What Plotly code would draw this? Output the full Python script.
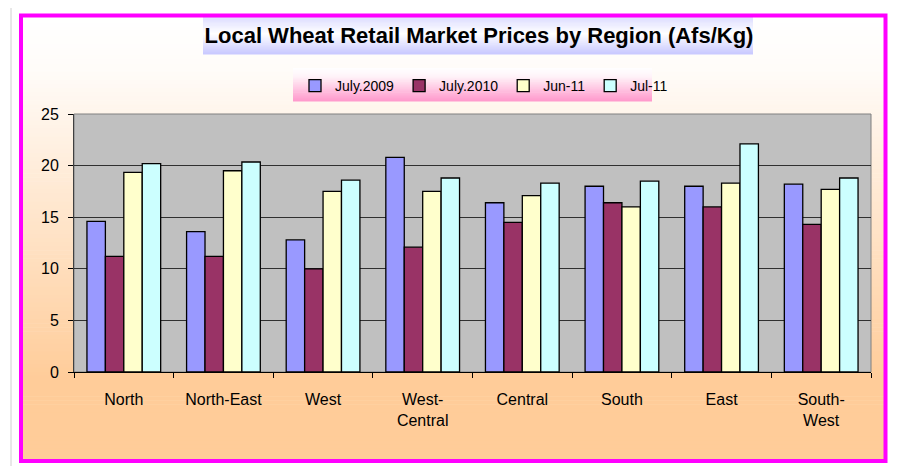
import plotly.graph_objects as go

# ---- data ----
regions = ["North", "North-East", "West", "West-Central", "Central", "South", "East", "South-West"]
tick_labels = ["North", "North-East", "West", "West-<br>Central", "Central", "South", "East", "South-<br>West"]
series_names = ["July.2009", "July.2010", "Jun-11", "Jul-11"]
jul2009 = [14.6, 13.6, 12.8, 20.8, 16.4, 18.0, 18.0, 18.2]
jul2010 = [11.2, 11.2, 10.0, 12.1, 14.5, 16.4, 16.0, 14.3]
jun2011 = [19.35, 19.5, 17.5, 17.5, 17.1, 16.0, 18.3, 17.7]
jul2011 = [20.2, 20.35, 18.6, 18.8, 18.3, 18.5, 22.1, 18.8]
colors = ["#9999FF", "#993366", "#FFFFCC", "#CCFFFF"]

# the page body has an 8px margin, so the figure is made 8px smaller
OFF = 8
W, H = 897 - OFF, 466 - OFF
PX0, PX1, PY0, PY1 = 74, 871, 114, 372   # plot area in page pixels
L, R = PX0 - OFF, W - (PX1 - OFF)
T, B = PY0 - OFF, H - (PY1 - OFF)
PW, PH = PX1 - PX0, PY1 - PY0

def px(x):
    return (x - PX0) / PW

def py(y):
    return (PY1 - y) / PH

def mix(c1, c2, t):
    a = [int(c1[i:i + 2], 16) for i in (1, 3, 5)]
    b = [int(c2[i:i + 2], 16) for i in (1, 3, 5)]
    return "rgb(%d,%d,%d)" % tuple(round(a[k] + (b[k] - a[k]) * t) for k in range(3))

shapes = []

def rect(x0, y0, x1, y1, fill=None, line=None, lw=0):
    shapes.append(dict(type="rect", xref="paper", yref="paper", layer="below",
                       x0=px(x0), x1=px(x1), y0=py(y1), y1=py(y0),
                       fillcolor=fill if fill else "rgba(0,0,0,0)",
                       line=dict(width=lw, color=line if line else "rgba(0,0,0,0)")))

def vgrad(x0, y0, x1, y1, stops, n):
    h = (y1 - y0) / n
    for i in range(n):
        t = (i + 0.5) / n
        for j in range(len(stops) - 1):
            if stops[j][0] <= t <= stops[j + 1][0]:
                tt = (t - stops[j][0]) / (stops[j + 1][0] - stops[j][0])
                c = mix(stops[j][1], stops[j + 1][1], tt)
                break
        rect(x0, y0 + i * h, x1, y0 + (i + 1) * h + 0.6, fill=c)

# page background gradient inside frame
vgrad(21, 15, 885, 461, [(0, "#FFFFFF"), (0.12, "#FFFCF9"), (0.82, "#FFCC99"), (1, "#FFCC99")], 110)
# plot area
rect(PX0, PY0, PX1, PY1, fill="#C0C0C0", line="#808080", lw=1)
# title box
vgrad(203, 17, 753, 54, [(0, "#DCDCFF"), (0.45, "#FFFFFF"), (1, "#C8C8FF")], 30)
# legend box
vgrad(293, 68, 652, 101, [(0, "#FFFFFF"), (0.25, "#FFF4F9"), (1, "#FF99CC")], 30)
# magenta frame
rect(21, 15.5, 885.5, 461, line="#FF00FF", lw=4)
# outer page lines
shapes.append(dict(type="line", xref="paper", yref="paper", layer="below",
                   x0=px(895), x1=px(895), y0=py(8), y1=py(470), line=dict(color="#000000", width=1.5)))
shapes.append(dict(type="line", xref="paper", yref="paper", layer="below",
                   x0=px(11), x1=px(11), y0=py(8), y1=py(470), line=dict(color="#D0D0D0", width=1)))

fig = go.Figure()
for name, vals, col in zip(series_names, [jul2009, jul2010, jun2011, jul2011], colors):
    fig.add_trace(go.Bar(x=regions, y=vals, name=name,
                         marker=dict(color=col, line=dict(color="#000000", width=1.3))))

font_family = "Liberation Sans, Arial, sans-serif"
fig.update_layout(
    width=W, height=H,
    margin=dict(l=L, r=R, t=T, b=B),
    paper_bgcolor="#FFFFFF",
    plot_bgcolor="rgba(0,0,0,0)",
    font=dict(family=font_family, color="#000000", size=16),
    barmode="group", bargap=0.26, bargroupgap=0,
    shapes=shapes,
    title=dict(text="<b>Local Wheat Retail Market Prices by Region (Afs/Kg)</b>",
               font=dict(size=22, family=font_family, color="#000000"),
               xref="paper", x=px(479), xanchor="center",
               yref="container", y=1 - (35 - OFF) / H, yanchor="middle"),
    legend=dict(orientation="h", x=px(295), xanchor="left", y=py(86), yanchor="middle",
                bgcolor="rgba(0,0,0,0)", font=dict(size=14, family=font_family), traceorder="normal"),
    showlegend=True,
)
fig.update_xaxes(type="category", tickvals=regions, ticktext=tick_labels,
                 tickson="boundaries", ticks="outside", ticklen=5, tickcolor="#000000",
                 showline=True, linecolor="#000000", linewidth=1, showgrid=False,
                 ticklabelstandoff=13, tickfont=dict(size=16))
fig.update_yaxes(range=[0, 25], dtick=5, ticks="outside", ticklen=5, tickcolor="#000000",
                 showline=True, linecolor="#404040", linewidth=1,
                 showgrid=True, gridcolor="#303030", gridwidth=1, zeroline=False,
                 ticklabelstandoff=6, tickfont=dict(size=16))

fig.write_html("out.html")
